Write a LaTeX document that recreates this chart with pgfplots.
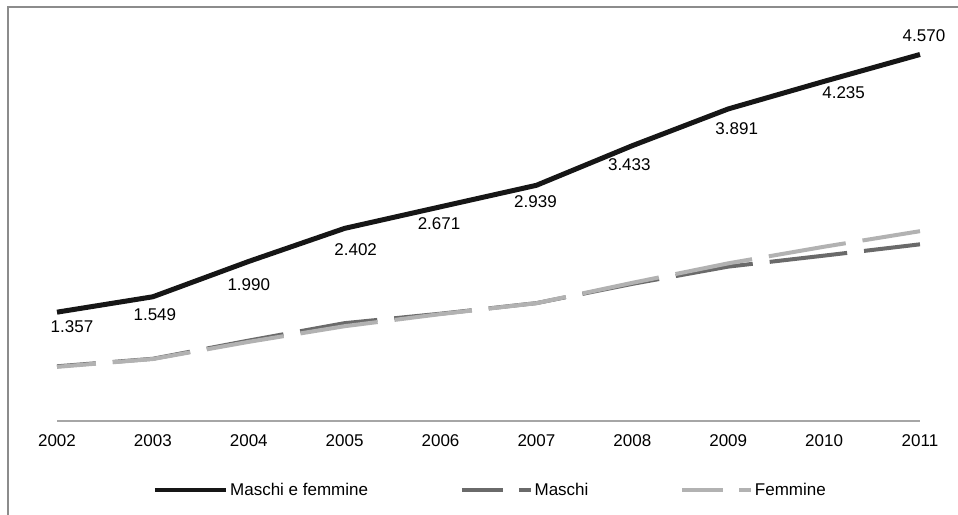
\documentclass[border=0pt]{standalone}
\usepackage{fontspec}
\setmainfont{Liberation Sans}
\usepackage{pgfplots}
\usepackage{pgfplotstable}
\pgfplotsset{compat=1.18}

% year, total, males, females, label offsets (dx, dy) for the total's values
\pgfplotstableread{
year tot  m    f    dx   dy
2002 1357 682  675  15   -14.3
2003 1549 776  773  2    -17.4
2004 1990 1003 987  0    -23
2005 2402 1220 1182 11   -21
2006 2671 1338 1333 -1.5 -16.5
2007 2939 1470 1469 -1   -16
2008 3433 1710 1723 -3   -18.7
2009 3891 1925 1966 8.5  -20
2010 4235 2062 2173 19.5 -11
2011 4570 2203 2367 4    18.6
}\stranieri

\definecolor{totcol}{HTML}{161616}
\definecolor{mcol}{HTML}{6A6A6A}
\definecolor{fcol}{HTML}{B2B2B2}
\definecolor{framecol}{HTML}{8C8C8C}
\definecolor{axiscol}{HTML}{A6A6A6}

\newcommand{\lblfont}{\fontsize{17bp}{20bp}\selectfont}

\pgfplotsset{
  solidleg/.style={legend image code/.code={%
    \draw[##1, line width=4.5bp] (0bp,0bp) -- (71bp,0bp);}},
  dashleg/.style={legend image code/.code={%
    \draw[##1, line width=3.5bp, dash pattern=on 41bp off 16bp on 12bp off 60bp, dash phase=0bp]
      (0bp,0bp) -- (69bp,0bp);}},
}

\begin{document}
\begin{tikzpicture}
\useasboundingbox (0,0) rectangle (958bp,515bp);
\draw[color=framecol, line width=2bp] (8bp,0bp) -- (8bp,507.5bp) -- (958bp,507.5bp);
\begin{axis}[
  at={(57bp,94bp)}, anchor=south west,
  scale only axis, width=863bp, height=401bp,
  xmin=2002, xmax=2011, ymin=0, ymax=5000,
  axis x line=bottom, axis y line=none,
  axis line style={-, draw=axiscol, line width=1.3bp},
  xtick={2002,2003,...,2011},
  major tick length=0pt,
  tick label style={font=\lblfont},
  xticklabel style={anchor=north, inner sep=0pt, yshift=-13bp,
    /pgf/number format/1000 sep={}},
  /pgf/number format/assume math mode=true,
  clip=false,
  legend columns=3,
  legend style={at={(0.502,-0.172)}, anchor=center, draw=none, fill=none,
    inner sep=0pt, font=\lblfont,
    /tikz/every even column/.append style={column sep=90bp}},
  legend cell align=left,
]
\addplot[color=totcol, line width=5bp, line join=round, solidleg,
  nodes near coords={\pgfmathprintnumber[fixed, precision=0, 1000 sep={.}, assume math mode=true]{\pgfplotspointmeta}},
  point meta=explicit,
  visualization depends on={\thisrow{dx} \as \dx},
  visualization depends on={\thisrow{dy} \as \dy},
  nodes near coords style={font=\lblfont, text=black, anchor=center, inner sep=0pt,
    xshift=\dx*1bp, yshift=\dy*1bp}]
  table[x=year, y=tot, meta=tot] {\stranieri};
\addlegendentry{Maschi e femmine}
\addplot[color=mcol, line width=4bp, dash pattern=on 78bp off 17bp, dash phase=39bp, dashleg]
  table[x=year, y=m] {\stranieri};
\addlegendentry{Maschi}
\addplot[color=fcol, line width=4bp, dash pattern=on 78bp off 17bp, dash phase=39bp, dashleg]
  table[x=year, y=f] {\stranieri};
\addlegendentry{Femmine}
\end{axis}
\end{tikzpicture}
\end{document}
